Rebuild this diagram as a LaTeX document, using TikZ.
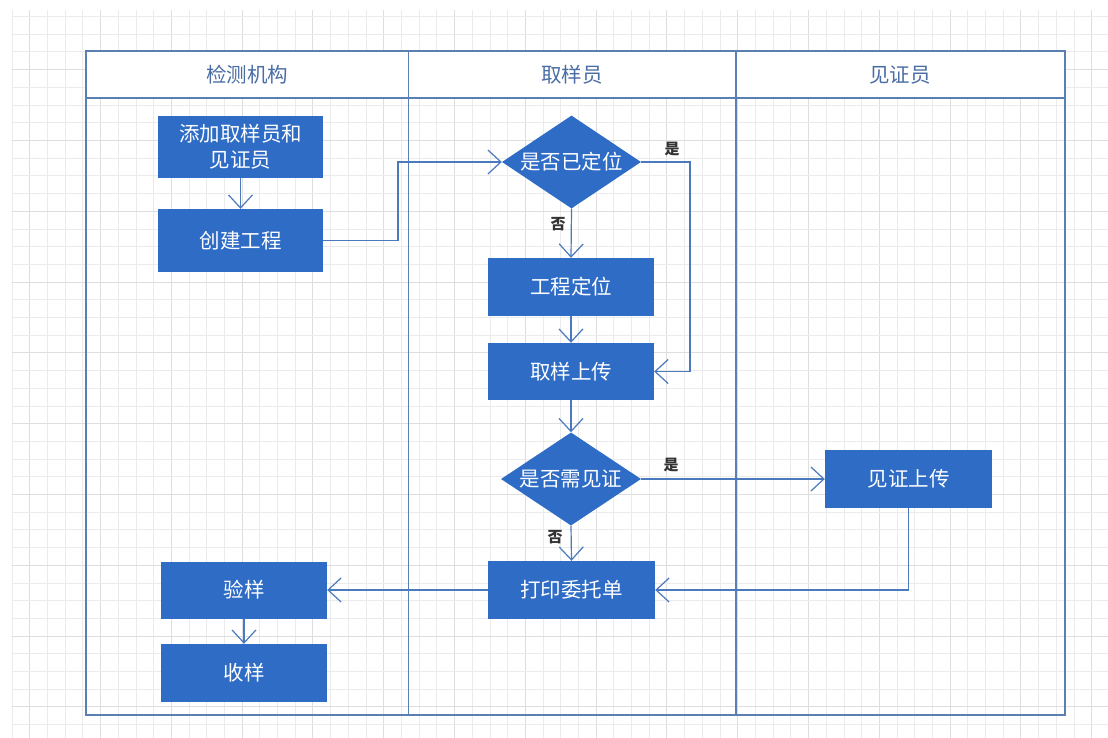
\documentclass[tikz,border=0pt]{standalone}
\usepackage{fontspec}
\setmainfont{Noto Sans CJK SC}
\usetikzlibrary{arrows.meta,shapes.geometric}
\definecolor{boxblue}{HTML}{2E6CC6}
\definecolor{linkblue}{HTML}{4A79BE}
\definecolor{poolline}{HTML}{5A80B3}
\definecolor{headtext}{HTML}{4A6DA5}
\definecolor{labeltext}{HTML}{333333}
\definecolor{gridminor}{HTML}{EBEBEB}
\definecolor{gridmajor}{HTML}{DEDEDE}
\tikzset{
  stepbox/.style={rectangle, fill=boxblue, draw=none, text=white, inner sep=0pt,
    minimum width=166pt, minimum height=58pt, align=center,
    font=\fontsize{20.5}{26}\selectfont},
  decision/.style={diamond, fill=boxblue, draw=none, text=white, inner sep=0pt,
    shape aspect=1.5, minimum width=139pt, minimum height=93pt,
    font=\fontsize{20.5}{26}\selectfont},
  arr/.style={draw=linkblue, line width=1.2pt, -{Straight Barb[length=13pt,width=24pt,line width=1.2pt]}},
  lanehead/.style={text=headtext, font=\fontsize{20.5}{24}\selectfont},
  yesno/.style={text=labeltext, font=\fontsize{15}{18}\selectfont\bfseries},
  pool/.style={draw=poolline, line width=1.5pt},
}
\begin{document}
\begin{tikzpicture}[x=1pt,y=-1pt]
\useasboundingbox (0,0) rectangle (1108,738);
\fill[white] (0,0) rectangle (1108,738);
% grid
\begin{scope}
\clip (12,10) rectangle (1108,738);
\foreach \i in {0,...,61} {
  \pgfmathtruncatemacro{\m}{mod(\i,4)}
  \ifnum\m=1
    \draw[gridmajor, line width=0.9pt] ({12+17.7*\i},10) -- ({12+17.7*\i},738);
  \else
    \draw[gridminor, line width=0.8pt] ({12+17.7*\i},10) -- ({12+17.7*\i},738);
  \fi
}
\foreach \j in {0,...,41} {
  \pgfmathtruncatemacro{\m}{mod(\j,4)}
  \ifnum\m=3
    \draw[gridmajor, line width=0.9pt] (12,{16.5+17.7*\j}) -- (1108,{16.5+17.7*\j});
  \else
    \draw[gridminor, line width=0.8pt] (12,{16.5+17.7*\j}) -- (1108,{16.5+17.7*\j});
  \fi
}
\end{scope}
% pool
\fill[white] (86,51) rectangle (1065,98);
\draw[pool] (86,51) rectangle (1065,715);
\draw[pool] (86,98) -- (1065,98);
\draw[pool] (408.5,51) -- (408.5,715);
\draw[pool] (736,51) -- (736,715);
\node[lanehead] (h1) at (247,75) {检测机构};
\node[lanehead] (h2) at (572,75) {取样员};
\node[lanehead] (h3) at (900,75) {见证员};
% nodes
\node[stepbox, minimum width=165pt, minimum height=62pt] (add) at (240.5,147) {添加取样员和\\见证员};
\node[stepbox, minimum width=165pt, minimum height=63pt] (create) at (240.5,240.5) {创建工程};
\node[decision] (d1) at (571.5,162) {\makebox[0pt]{是否已定位}};
\node[stepbox] (locate) at (571,287) {工程定位};
\node[stepbox, minimum height=57pt] (upload) at (571,371.5) {取样上传};
\node[decision, minimum width=140pt] (d2) at (571,479) {\makebox[0pt]{是否需见证}};
\node[stepbox, minimum width=167pt] (witness) at (908.5,479) {见证上传};
\node[stepbox, minimum width=167pt] (print) at (571.5,590) {打印委托单};
\node[stepbox, minimum height=57pt] (check) at (244,590) {验样};
\node[stepbox] (receive) at (244,673) {收样};
% labels
\node[yesno] (y1) at (672,149) {是};
\node[yesno] (n1) at (558,224) {否};
\node[yesno] (y2) at (671,465) {是};
\node[yesno] (n2) at (555,537) {否};
% connectors
\coordinate (c1) at (398,240.5);
\coordinate (c2) at (690,162);
\draw[arr] (add) -- (create);
\draw[arr] (create.east) -- (c1) |- (d1.west);
\draw[arr] (d1.south) -- (locate.north);
\draw[arr] (d1.east) -- (c2) |- (upload.east);
\draw[arr] (locate) -- (upload);
\draw[arr] (upload.south) -- (d2.north);
\draw[arr] (d2.east) -- (witness.west);
\draw[arr] (d2.south) -- (print.north);
\draw[arr] (witness.south) |- (print.east);
\draw[arr] (print.west) -- (check.east);
\draw[arr] (check) -- (receive);
\end{tikzpicture}
\end{document}
